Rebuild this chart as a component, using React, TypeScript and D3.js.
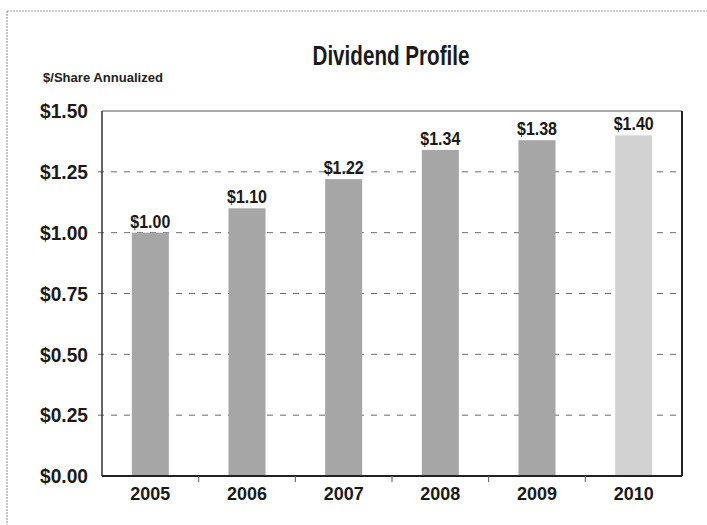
import React from "react";
import * as d3 from "d3";

const years = ["2005", "2006", "2007", "2008", "2009", "2010"];
const dividends = [1.0, 1.1, 1.22, 1.34, 1.38, 1.4];
const valueLabels = ["$1.00", "$1.10", "$1.22", "$1.34", "$1.38", "$1.40"];
const yTicks = [0, 0.25, 0.5, 0.75, 1.0, 1.25, 1.5];
const yTickLabels = ["$0.00", "$0.25", "$0.50", "$0.75", "$1.00", "$1.25", "$1.50"];
const barFills = ["#a6a6a6", "#a6a6a6", "#a6a6a6", "#a6a6a6", "#a6a6a6", "#d2d2d2"];
const title = "Dividend Profile";
const subtitle = "$/Share Annualized";

const W = 707;
const H = 525;
const M = { left: 102, right: 682, top: 111, bottom: 476 };
const FONT = "'Liberation Sans', Arial, sans-serif";

export default function App() {
  const x = d3.scaleBand<string>().domain(years).range([M.left, M.right]).paddingInner(0.617).paddingOuter(0.3085);
  const y = d3.scaleLinear().domain([0, 1.5]).range([M.bottom, M.top]);
  const step = x.step();
  const bw = x.bandwidth();

  return (
    <svg width={W} height={H} style={{ position: "absolute", left: 0, top: 0, background: "#fff" }} fontFamily={FONT}>
      <rect x={0} y={0} width={W} height={H} fill="#fff" />
      {/* outer frame */}
      <line x1={7} y1={11} x2={W} y2={11} stroke="#9a9a9a" strokeWidth={1} strokeDasharray="2 1" />
      <line x1={7} y1={11} x2={7} y2={H} stroke="#8a8a8a" strokeWidth={1} strokeDasharray="2 1" />

      <text x={391} y={65} textAnchor="middle" fontSize={28} fontWeight="bold" fill="#1a1a1a" textLength={157} lengthAdjust="spacingAndGlyphs">
        {title}
      </text>
      <text x={43} y={82} fontSize={12.5} fontWeight="bold" fill="#222" textLength={120} lengthAdjust="spacingAndGlyphs">
        {subtitle}
      </text>

      {/* gridlines */}
      {yTicks.filter((t) => t > 0 && t < 1.5).map((t) => (
        <line key={"g" + t} x1={M.left - 4} x2={M.right} y1={y(t)} y2={y(t)} stroke="#6a6a6a" strokeWidth={1} strokeDasharray="6 7" />
      ))}

      {/* y labels */}
      {yTicks.map((t, i) => (
        <text key={"yl" + t} x={88} y={y(t)} dy="0.36em" textAnchor="end" fontSize={20} fontWeight="bold" fill="#1a1a1a" textLength={48} lengthAdjust="spacingAndGlyphs">
          {yTickLabels[i]}
        </text>
      ))}

      {/* bars */}
      {years.map((yr, i) => (
        <rect key={"b" + yr} x={x(yr)} y={y(dividends[i])} width={bw} height={y(0) - y(dividends[i])} fill={barFills[i]} />
      ))}

      {/* value labels */}
      {years.map((yr, i) => (
        <text key={"v" + yr} x={(x(yr) as number) + bw / 2} y={y(dividends[i]) - 5} textAnchor="middle" fontSize={19} fontWeight="bold" fill="#1a1a1a" textLength={40} lengthAdjust="spacingAndGlyphs">
          {valueLabels[i]}
        </text>
      ))}

      {/* plot frame */}
      <line x1={M.left} x2={M.right} y1={M.top} y2={M.top} stroke="#555" strokeWidth={1} />
      <line x1={M.left} x2={M.left} y1={M.top} y2={M.bottom} stroke="#333" strokeWidth={1.5} />
      <line x1={M.right} x2={M.right} y1={M.top} y2={M.bottom} stroke="#222" strokeWidth={2} />
      <line x1={M.left} x2={M.right} y1={M.bottom} y2={M.bottom} stroke="#222" strokeWidth={2} />

      {/* x ticks between bands */}
      {years.slice(0, -1).map((yr) => {
        const tx = (x(yr) as number) + bw / 2 + step / 2;
        return <line key={"t" + yr} x1={tx} x2={tx} y1={M.bottom} y2={M.bottom + 6} stroke="#555" strokeWidth={1} />;
      })}

      {/* x labels */}
      {years.map((yr) => (
        <text key={"xl" + yr} x={(x(yr) as number) + bw / 2} y={500} textAnchor="middle" fontSize={19} fontWeight="bold" fill="#1a1a1a" textLength={40} lengthAdjust="spacingAndGlyphs">
          {yr}
        </text>
      ))}
    </svg>
  );
}
